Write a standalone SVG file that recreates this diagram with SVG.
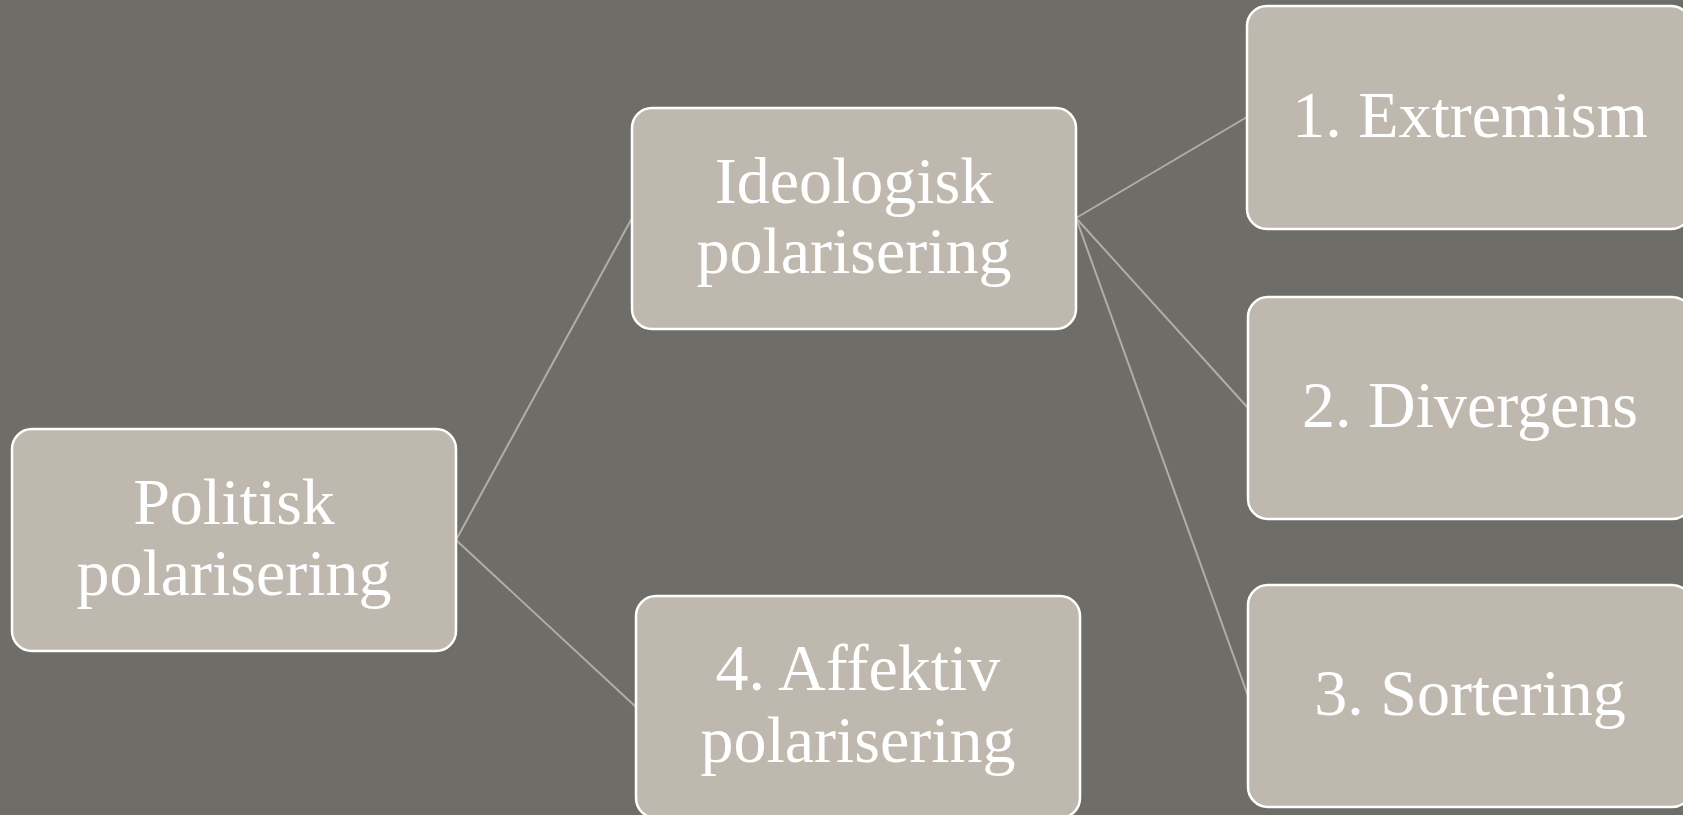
<svg xmlns="http://www.w3.org/2000/svg" width="1683" height="815" viewBox="0 0 1683 815">
<style>
.box{fill:#bfb8ae;stroke:#ffffff;stroke-width:2.5}
.lbl{font-family:"Liberation Serif","DejaVu Serif",serif;font-size:66px;fill:#ffffff;text-anchor:middle}
.con{stroke:#b3ada3;stroke-width:2;fill:none}
</style>
<rect x="0" y="0" width="1683" height="815" fill="#6f6d68"/>
<g id="connectors">
<line class="con" x1="456" y1="540" x2="632" y2="218"/>
<line class="con" x1="456" y1="540" x2="636" y2="707"/>
<line class="con" x1="1076" y1="218" x2="1247" y2="117"/>
<line class="con" x1="1076" y1="218" x2="1248" y2="408"/>
<line class="con" x1="1076" y1="218" x2="1248" y2="696"/>
</g>
<g id="politisk">
<rect class="box" x="12" y="429" width="444" height="222" rx="20"/>
<text class="lbl" x="234" y="524">Politisk</text>
<text class="lbl" x="234" y="595">polarisering</text>
</g>
<g id="ideologisk">
<rect class="box" x="632" y="108" width="444" height="221" rx="20"/>
<text class="lbl" x="854" y="203">Ideologisk</text>
<text class="lbl" x="854" y="273">polarisering</text>
</g>
<g id="affektiv">
<rect class="box" x="636" y="596" width="444" height="222" rx="20"/>
<text class="lbl" x="858" y="690">4. Affektiv</text>
<text class="lbl" x="858" y="762">polarisering</text>
</g>
<g id="extremism">
<rect class="box" x="1247" y="6" width="444" height="223" rx="20"/>
<text class="lbl" x="1470" y="137">1. Extremism</text>
</g>
<g id="divergens">
<rect class="box" x="1248" y="297" width="444" height="222" rx="20"/>
<text class="lbl" x="1470" y="427">2. Divergens</text>
</g>
<g id="sortering">
<rect class="box" x="1248" y="585" width="444" height="222" rx="20"/>
<text class="lbl" x="1470" y="715">3. Sortering</text>
</g>
</svg>
